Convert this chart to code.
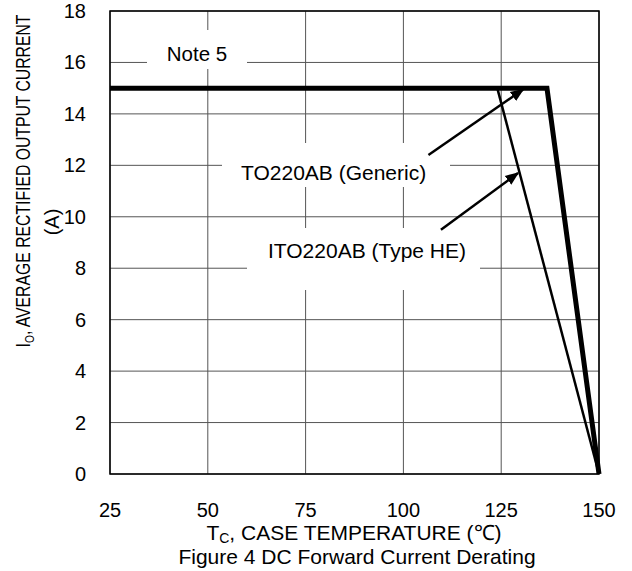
<!DOCTYPE html>
<html>
<head>
<meta charset="utf-8">
<script src="https://cdn.jsdelivr.net/npm/d3@7"></script>
<style>
  body { margin: 0; background: #fff; }
  text { font-family: "Liberation Sans", Arial, sans-serif; fill: #000; }
</style>
</head>
<body>
<div id="chart"></div>
<script>
const xTicks = [25, 50, 75, 100, 125, 150];
const yTicks = [0, 2, 4, 6, 8, 10, 12, 14, 16, 18];

// derating curves (Tc, Io)
const genericCurve = [[25, 15], [136.7, 15], [150, 0]];
const heCurve = [[124, 15], [150, 0]];

// annotation arrows: [from, to] in data units
const arrowGeneric = [[106.4, 12.4], [130.6, 14.95]];
const arrowHE = [[109.6, 9.5], [129.3, 11.7]];

const drawChart = () => {
  const width = 632;
  const height = 571;
  const margin = { top: 11, right: 33, bottom: 97, left: 110 };

  const svg = d3
    .select("#chart")
    .append("svg")
    .attr("width", width)
    .attr("height", height);

  const x = d3
    .scaleLinear()
    .domain([25, 150])
    .range([margin.left, width - margin.right]);

  const y = d3
    .scaleLinear()
    .domain([0, 18])
    .range([height - margin.bottom, margin.top]);

  svg
    .append("defs")
    .append("marker")
    .attr("id", "arrow")
    .attr("viewBox", "0 0 10 10")
    .attr("refX", 9)
    .attr("refY", 5)
    .attr("markerWidth", 5.5)
    .attr("markerHeight", 5.5)
    .attr("markerUnits", "strokeWidth")
    .attr("orient", "auto")
    .append("path")
    .attr("d", "M0,1 L10,5 L0,9 Z")
    .attr("fill", "#000");

  // grid
  svg
    .selectAll(".gx")
    .data(xTicks)
    .enter()
    .append("line")
    .attr("x1", (d) => x(d))
    .attr("x2", (d) => x(d))
    .attr("y1", y(0))
    .attr("y2", y(18))
    .attr("stroke", "#555")
    .attr("stroke-width", 1);

  svg
    .selectAll(".gy")
    .data(yTicks)
    .enter()
    .append("line")
    .attr("x1", x(25))
    .attr("x2", x(150))
    .attr("y1", (d) => y(d))
    .attr("y2", (d) => y(d))
    .attr("stroke", "#555")
    .attr("stroke-width", 1);

  // white boxes behind labels
  const boxes = [
    [147, 30, 100, 39],
    [222, 143, 228, 44],
    [247, 228, 233, 62],
  ];
  svg
    .selectAll(".box")
    .data(boxes)
    .enter()
    .append("rect")
    .attr("x", (d) => d[0])
    .attr("y", (d) => d[1])
    .attr("width", (d) => d[2])
    .attr("height", (d) => d[3])
    .attr("fill", "#fff");

  // frame
  svg
    .append("rect")
    .attr("x", x(25))
    .attr("y", y(18))
    .attr("width", x(150) - x(25))
    .attr("height", y(0) - y(18))
    .attr("fill", "none")
    .attr("stroke", "#000")
    .attr("stroke-width", 1.5);

  const line = d3
    .line()
    .x((d) => x(d[0]))
    .y((d) => y(d[1]));

  svg
    .append("path")
    .attr("d", line(heCurve))
    .attr("fill", "none")
    .attr("stroke", "#000")
    .attr("stroke-width", 2.5);

  svg
    .append("path")
    .attr("d", line(genericCurve))
    .attr("fill", "none")
    .attr("stroke", "#000")
    .attr("stroke-width", 5)
    .attr("stroke-linejoin", "miter");

  [arrowGeneric, arrowHE].forEach((a) => {
    svg
      .append("path")
      .attr("d", line(a))
      .attr("stroke", "#000")
      .attr("stroke-width", 2.5)
      .attr("marker-end", "url(#arrow)");
  });

  // tick labels
  svg
    .selectAll(".xl")
    .data(xTicks)
    .enter()
    .append("text")
    .attr("x", (d) => x(d))
    .attr("y", 517)
    .attr("text-anchor", "middle")
    .style("font-size", "20px")
    .text((d) => d);

  svg
    .selectAll(".yl")
    .data(yTicks)
    .enter()
    .append("text")
    .attr("x", 86)
    .attr("y", (d) => y(d) + 7)
    .attr("text-anchor", "end")
    .style("font-size", "20px")
    .text((d) => d);

  // labels in plot
  svg
    .append("text")
    .attr("x", 197)
    .attr("y", 61)
    .attr("text-anchor", "middle")
    .style("font-size", "20.5px")
    .text("Note 5");

  svg
    .append("text")
    .attr("x", 241)
    .attr("y", 180)
    .style("font-size", "21px")
    .text("TO220AB (Generic)");

  svg
    .append("text")
    .attr("x", 268)
    .attr("y", 258)
    .style("font-size", "21px")
    .text("ITO220AB (Type HE)");

  // axis titles
  const xt = svg
    .append("text")
    .attr("x", 354)
    .attr("y", 540)
    .attr("text-anchor", "middle")
    .style("font-size", "21px");
  xt.append("tspan").text("T");
  xt.append("tspan").attr("dy", 3).style("font-size", "14px").text("C");
  xt.append("tspan").attr("dy", -3).text(", CASE TEMPERATURE (℃)");

  svg
    .append("text")
    .attr("x", 357)
    .attr("y", 564)
    .attr("text-anchor", "middle")
    .style("font-size", "21px")
    .text("Figure 4 DC Forward Current Derating");

  const yt = svg
    .append("text")
    .attr("text-anchor", "middle")
    .style("font-size", "20px");
  yt.append("tspan").text("I");
  yt.append("tspan").attr("dy", 4).style("font-size", "13px").text("O");
  yt.append("tspan").attr("dy", -4).text(", AVERAGE RECTIFIED OUTPUT CURRENT");
  // squeeze the title to the length used in the datasheet
  const ytLen = yt.node().getComputedTextLength();
  yt.attr(
    "transform",
    `translate(30,181) rotate(-90) scale(${333 / ytLen},1)`
  );

  svg
    .append("text")
    .attr("transform", "translate(53,222) rotate(-90)")
    .attr("text-anchor", "middle")
    .attr("dy", 6)
    .style("font-size", "20px")
    .text("(A)");
};

drawChart();
</script>
</body>
</html>
